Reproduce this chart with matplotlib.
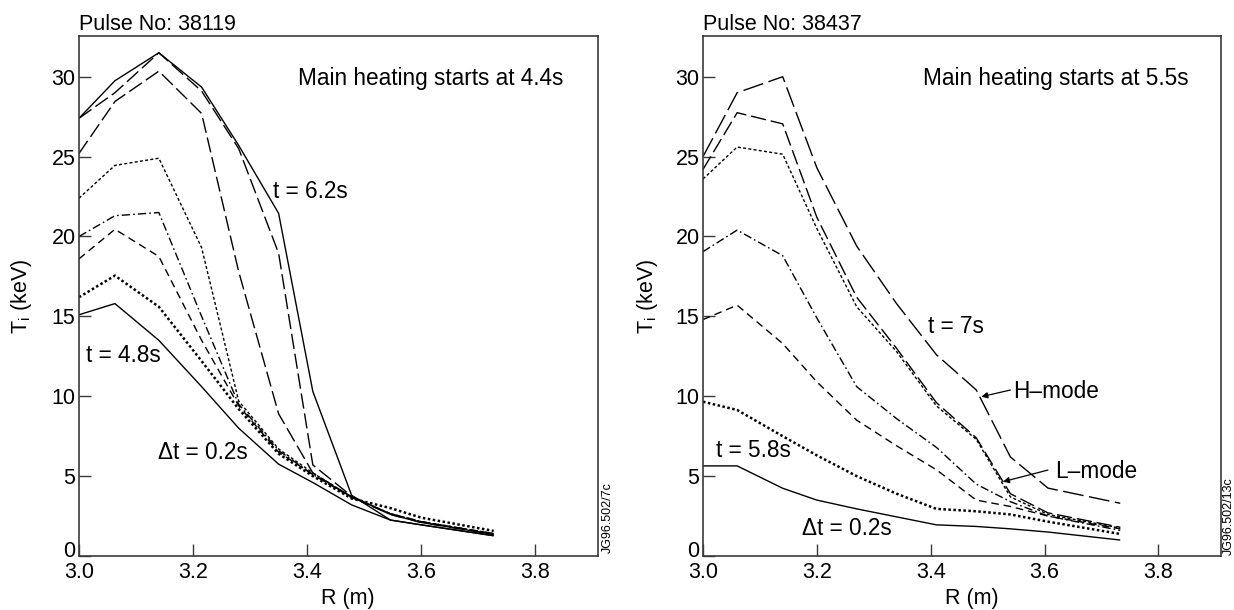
import matplotlib
matplotlib.use("Agg")
import matplotlib.pyplot as plt
import matplotlib.transforms as mtransforms

plt.rcParams['font.family'] = ['Liberation Sans', 'DejaVu Sans']
plt.rcParams['mathtext.default'] = 'regular'

# ---------------- data: Pulse 38119 (left) ----------------
R_left = [3.0, 3.063, 3.14, 3.215, 3.28, 3.35, 3.41, 3.478, 3.546, 3.60, 3.727]
L_solid_62 = [27.4, 29.75, 31.5, 29.35, 25.7, 21.45, 10.3, 3.8, 2.25, 1.95, 1.27]
L_ldash_1 = [27.4, 29.0, 31.5, 29.1, 25.5, 18.95, 5.7, 3.75, 2.6, 2.1, 1.35]
L_ldash_2 = [25.2, 28.45, 30.35, 27.7, 17.8, 8.9, 5.2, 3.7, 2.6, 2.1, 1.35]
L_fine = [22.4, 24.45, 24.9, 19.3, 9.7, 6.7, 5.2, 3.7, 2.65, 2.15, 1.4]
L_dashdot = [20.0, 21.3, 21.5, 15.0, 9.5, 6.6, 5.1, 3.7, 2.65, 2.15, 1.4]
L_mdash = [18.6, 20.45, 18.75, 13.5, 9.4, 6.5, 5.1, 3.65, 2.65, 2.15, 1.4]
L_dotted = [16.2, 17.55, 15.6, 12.2, 9.2, 6.4, 5.0, 3.6, 3.0, 2.4, 1.57]
L_solid_48 = [15.1, 15.8, 13.5, 10.6, 8.0, 5.75, 4.6, 3.2, 2.25, 1.95, 1.27]

# ---------------- data: Pulse 38437 (right) ----------------
R_right = [3.0, 3.06, 3.14, 3.2, 3.27, 3.34, 3.41, 3.48, 3.54, 3.606, 3.733]
R_xldash_7 = [25.0, 29.0, 30.0, 24.3, 19.4, 15.8, 12.6, 10.4, 6.2, 4.25, 3.3]
R_ldash = [24.2, 27.75, 27.05, 21.2, 16.2, 13.0, 9.6, 7.4, 3.9, 2.7, 1.8]
R_fine = [23.6, 25.6, 25.15, 20.5, 15.6, 12.8, 9.4, 7.3, 3.7, 2.6, 1.75]
R_dashdot = [19.05, 20.4, 18.8, 14.9, 10.6, 8.6, 6.8, 4.5, 3.4, 2.5, 1.6]
R_mdash = [14.8, 15.7, 13.3, 10.9, 8.5, 6.9, 5.4, 3.5, 3.1, 2.5, 1.7]
R_dotted = [9.66, 9.14, 7.5, 6.3, 5.0, 3.9, 2.95, 2.8, 2.6, 2.15, 1.38]
R_solid_58 = [5.64, 5.64, 4.24, 3.5, 2.95, 2.45, 1.95, 1.85, 1.7, 1.5, 1.0]

x_ticks = [3.0, 3.2, 3.4, 3.6, 3.8]
x_ticklabels = ['3.0', '3.2', '3.4', '3.6', '3.8']
y_ticks = [0, 5, 10, 15, 20, 25, 30]
y_ticklabels = ['0', '5', '10', '15', '20', '25', '30']

# ---------------- styles ----------------
LW = 1.0
ST_SOLID = dict(ls='-', lw=LW)
ST_XLDASH = dict(ls=(0, (15, 4)), lw=LW)
ST_LDASH = dict(ls=(0, (11, 3.5)), lw=LW)
ST_MDASH = dict(ls=(0, (5.5, 3.5)), lw=LW)
ST_FINE = dict(ls=(0, (2.2, 1.6)), lw=LW)
ST_DASHDOT = dict(ls=(0, (6, 2.2, 1.2, 2.2)), lw=LW)
ST_DOTTED = dict(ls=(0, (1, 1)), lw=1.8)

FS_TICK = 15.5
FS_ANN = 16.3
FS_TITLE = 15.5
SPINE_C = '#3a3a3a'

fig = plt.figure(figsize=(12.34, 6.10), dpi=100)
axL = fig.add_axes([79 / 1234, 54 / 610, 519 / 1234, 520 / 610])
axR = fig.add_axes([703 / 1234, 54 / 610, 518 / 1234, 520 / 610])

left_series = [
    (L_solid_62, ST_SOLID), (L_ldash_1, ST_LDASH), (L_ldash_2, ST_LDASH),
    (L_fine, ST_FINE), (L_dashdot, ST_DASHDOT), (L_mdash, ST_MDASH),
    (L_dotted, ST_DOTTED), (L_solid_48, ST_SOLID),
]
right_series = [
    (R_xldash_7, ST_XLDASH), (R_ldash, ST_LDASH), (R_fine, ST_FINE),
    (R_dashdot, ST_DASHDOT), (R_mdash, ST_MDASH), (R_dotted, ST_DOTTED),
    (R_solid_58, ST_SOLID),
]

for y, st in left_series:
    axL.plot(R_left, y, color='black', solid_capstyle='butt', dash_capstyle='butt', **st)
for y, st in right_series:
    axR.plot(R_right, y, color='black', solid_capstyle='butt', dash_capstyle='butt', **st)

for ax in (axL, axR):
    ax.set_xlim(3.0, 3.91)
    ax.set_ylim(0, 32.55)
    ax.set_xticks(x_ticks)
    ax.set_xticklabels(x_ticklabels)
    ax.set_yticks(y_ticks)
    ax.set_yticklabels(y_ticklabels)
    ax.tick_params(direction='in', length=8.6, width=1.0, color=SPINE_C,
                   labelsize=FS_TICK, top=False, right=False)
    ax.tick_params(axis='y', pad=2.5)
    ax.tick_params(axis='x', pad=4.5)
    for s in ax.spines.values():
        s.set_color(SPINE_C)
        s.set_linewidth(1.2)
    ax.set_xlabel('R (m)', fontsize=FS_TICK)
    ax.set_ylabel('T$_{i}$ (keV)', fontsize=FS_TICK)
    # the "0" label sits slightly above its tick in the reference
    zero_lbl = ax.get_yticklabels()[0]
    zero_lbl.set_transform(zero_lbl.get_transform() +
                           mtransforms.ScaledTranslation(0, 5 / 72, fig.dpi_scale_trans))

axL.xaxis.set_label_coords(0.517, -0.062)
axR.xaxis.set_label_coords(0.519, -0.062)
axL.yaxis.set_label_coords(-0.087, 0.5)
axR.yaxis.set_label_coords(-0.083, 0.5)

# titles
axL.text(0.0, 1.012, 'Pulse No: 38119', transform=axL.transAxes, fontsize=FS_TITLE,
         ha='left', va='baseline')
axR.text(0.0, 1.012, 'Pulse No: 38437', transform=axR.transAxes, fontsize=FS_TITLE,
         ha='left', va='baseline')

# left annotations
axL.text(3.384, 29.5, 'Main heating starts at 4.4s', fontsize=FS_ANN, ha='left', va='baseline')
axL.text(3.34, 22.4, 't = 6.2s', fontsize=FS_ANN, ha='left', va='baseline')
axL.text(3.012, 12.15, 't = 4.8s', fontsize=FS_ANN, ha='left', va='baseline')
axL.text(3.139, 6.07, '\u0394t = 0.2s', fontsize=FS_ANN, ha='left', va='baseline')

# right annotations
axR.text(3.386, 29.5, 'Main heating starts at 5.5s', fontsize=FS_ANN, ha='left', va='baseline')
axR.text(3.395, 13.96, 't = 7s', fontsize=FS_ANN, ha='left', va='baseline')
axR.text(3.023, 6.22, 't = 5.8s', fontsize=FS_ANN, ha='left', va='baseline')
axR.text(3.174, 1.31, '\u0394t = 0.2s', fontsize=FS_ANN, ha='left', va='baseline')
axR.text(3.545, 9.87, 'H\u2013mode', fontsize=FS_ANN, ha='left', va='baseline')
axR.text(3.618, 4.87, 'L\u2013mode', fontsize=FS_ANN, ha='left', va='baseline')

arrow_kw = dict(arrowstyle='-|>', lw=0.9, color='black', mutation_scale=9,
                shrinkA=0, shrinkB=0)
axR.annotate('', xy=(3.489, 9.97), xytext=(3.540, 10.39), arrowprops=arrow_kw)
axR.annotate('', xy=(3.527, 4.65), xytext=(3.606, 5.38), arrowprops=arrow_kw)

# side reference codes
fig.text(608 / 1234, 1 - 553 / 610, 'JG96.502/7c', rotation=90, ha='center', va='bottom',
         fontsize=9)
fig.text(1229 / 1234, 1 - 555 / 610, 'JG96.502/13c', rotation=90, ha='center', va='bottom',
         fontsize=9)

fig.savefig('out.png', dpi=100)
